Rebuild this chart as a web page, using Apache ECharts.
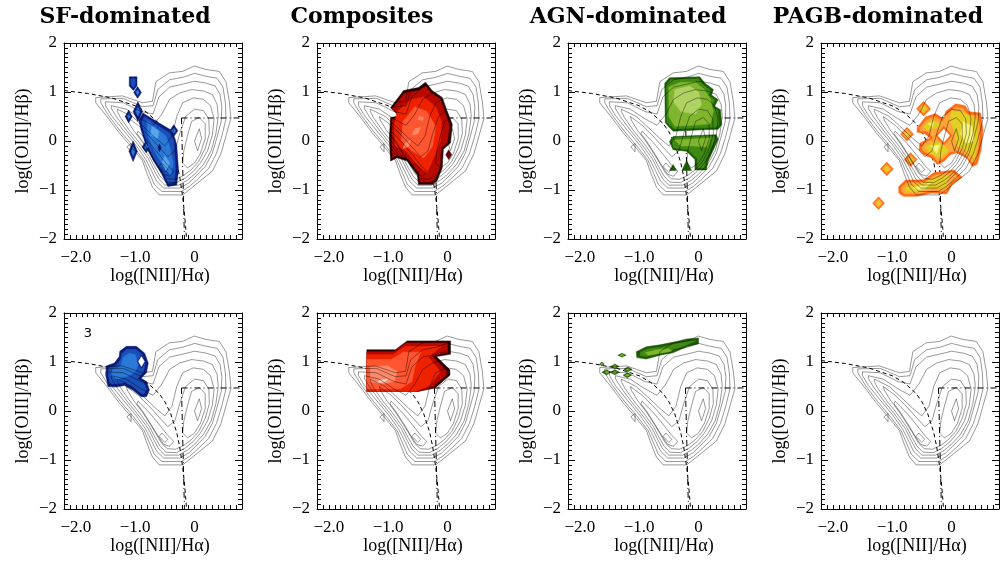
<!DOCTYPE html>
<html>
<head>
<meta charset="utf-8">
<script src="https://cdn.jsdelivr.net/npm/echarts@6/dist/echarts.min.js"></script>
<style>
	html, body { margin: 0; padding: 0; background: #fff; }
	#main { width: 1000px; height: 565px; }
</style>
</head>
<body>
<div id="main"></div>
<script>
	// 标题与刻度
	var panelTitles = ['SF-dominated', 'Composites', 'AGN-dominated', 'PAGB-dominated'];
	var xTickLabels = [-2, -1, 0];
	var yTickLabels = [-2, -1, 0, 1, 2];

	// 分界线 (Kauffmann 曲线 + 点划线)
	var kauffmannLine = [[-2.2, 1.03], [-1.8, 0.97], [-1.4, 0.88], [-1.0, 0.72], [-0.8, 0.58], [-0.6, 0.36],
		[-0.5, 0.19], [-0.4, -0.06], [-0.3, -0.44], [-0.25, -0.73], [-0.2, -1.14], [-0.17, -1.47], [-0.15, -1.75], [-0.135, -2.0]];
	var dashDotH = [[-0.22, 0.47], [0.8, 0.47]];
	var dashDotV = [[-0.22, 0.47], [-0.17, -2.0]];

	// 灰色等值线 (全样本)
	var bgContours = [
		[[-1.665, 0.886], [-1.215, 0.92], [-0.878, 0.78], [-0.709, 0.81], [-0.652, 1.21], [-0.427, 1.39], [-0.202, 1.42], [-0.005, 1.53], [0.192, 1.46], [0.417, 1.42], [0.529, 1.21], [0.586, 0.81], [0.614, 0.46], [0.529, 0.10], [0.445, -0.26], [0.304, -0.61], [0.079, -0.83], [-0.062, -0.97], [-0.202, -1.10], [-0.596, -1.10], [-0.709, -0.94], [-0.793, -0.69], [-0.878, -0.40], [-1.046, -0.15], [-1.271, 0.17], [-1.497, 0.53], [-1.665, 0.78]],
		[[-1.58, 0.86], [-1.2, 0.87], [-0.88, 0.70], [-0.70, 0.72], [-0.62, 1.05], [-0.42, 1.25], [-0.2, 1.3], [0.0, 1.38], [0.2, 1.32], [0.38, 1.28], [0.48, 1.1], [0.52, 0.78], [0.53, 0.45], [0.46, 0.10], [0.37, -0.25], [0.24, -0.56], [0.05, -0.78], [-0.08, -0.92], [-0.22, -1.03], [-0.55, -1.03], [-0.68, -0.88], [-0.76, -0.65], [-0.85, -0.40], [-1.02, -0.13], [-1.25, 0.2], [-1.45, 0.52], [-1.58, 0.78]],
		[[-1.5, 0.8], [-1.2, 0.78], [-0.9, 0.6], [-0.7, 0.55], [-0.6, 0.9], [-0.42, 1.1], [-0.2, 1.16], [0.0, 1.22], [0.2, 1.18], [0.35, 1.12], [0.43, 0.95], [0.46, 0.7], [0.45, 0.4], [0.38, 0.08], [0.3, -0.25], [0.18, -0.52], [0.02, -0.72], [-0.1, -0.86], [-0.25, -0.96], [-0.52, -0.96], [-0.64, -0.82], [-0.72, -0.62], [-0.82, -0.38], [-0.98, -0.1], [-1.2, 0.22], [-1.4, 0.52], [-1.5, 0.72]],
		[[-1.4, 0.72], [-1.15, 0.65], [-0.9, 0.45], [-0.7, 0.32], [-0.55, 0.55], [-0.42, 0.85], [-0.25, 0.98], [-0.05, 1.05], [0.15, 1.02], [0.3, 0.95], [0.38, 0.75], [0.4, 0.5], [0.36, 0.15], [0.28, -0.2], [0.15, -0.48], [0.0, -0.68], [-0.12, -0.8], [-0.27, -0.9], [-0.5, -0.9], [-0.6, -0.78], [-0.68, -0.6], [-0.78, -0.36], [-0.95, -0.08], [-1.15, 0.22], [-1.32, 0.5], [-1.4, 0.66]],
		[[-1.3, 0.65], [-1.05, 0.5], [-0.85, 0.28], [-0.65, 0.05], [-0.5, -0.1], [-0.38, 0.1], [-0.3, 0.5], [-0.2, 0.78], [-0.02, 0.88], [0.15, 0.85], [0.27, 0.72], [0.33, 0.45], [0.3, 0.12], [0.22, -0.2], [0.1, -0.45], [-0.02, -0.62], [-0.15, -0.75], [-0.3, -0.85], [-0.48, -0.84], [-0.58, -0.72], [-0.66, -0.55], [-0.76, -0.32], [-0.92, -0.05], [-1.1, 0.22], [-1.25, 0.48], [-1.3, 0.6]],
		[[-1.15, 0.5], [-0.95, 0.32], [-0.75, 0.08], [-0.58, -0.15], [-0.45, -0.32], [-0.33, -0.2], [-0.25, 0.15], [-0.15, 0.5], [0.0, 0.65], [0.15, 0.62], [0.24, 0.45], [0.25, 0.15], [0.18, -0.15], [0.07, -0.42], [-0.05, -0.58], [-0.18, -0.7], [-0.32, -0.78], [-0.46, -0.77], [-0.56, -0.65], [-0.64, -0.48], [-0.74, -0.28], [-0.88, -0.02], [-1.03, 0.22], [-1.13, 0.42]],
		[[-0.95, 0.2], [-0.75, -0.05], [-0.58, -0.3], [-0.45, -0.5], [-0.35, -0.62], [-0.42, -0.72], [-0.52, -0.68], [-0.62, -0.5], [-0.72, -0.3], [-0.85, -0.05], [-0.97, 0.15]],
		[[-0.12, 0.1], [-0.05, 0.4], [0.08, 0.48], [0.18, 0.35], [0.18, 0.05], [0.1, -0.25], [0.0, -0.45], [-0.12, -0.55], [-0.2, -0.45], [-0.18, -0.2]],
		[[-0.55, -0.45], [-0.45, -0.58], [-0.5, -0.64], [-0.6, -0.52]],
		[[0.0, 0.0], [0.08, 0.25], [0.12, 0.05], [0.05, -0.2]],
		[[-1.14, -0.12], [-1.07, -0.05], [-1.07, -0.22]]
	];

	// SF 主导 (上)
	var sfTopOuter = [
		[[-0.87, 0.57], [-0.59, 0.36], [-0.39, 0.22], [-0.33, 0.05], [-0.30, -0.08], [-0.27, -0.59], [-0.30, -0.90], [-0.45, -0.93], [-0.56, -0.66], [-0.70, -0.39], [-0.81, -0.12], [-0.90, 0.22], [-0.94, 0.43]],
		[[-1.1, 1.31], [-0.97, 1.31], [-0.97, 1.12], [-1.03, 1.03], [-1.1, 1.12]]
	];
	var sfTopMid = [
		[[-0.84, 0.50], [-0.60, 0.30], [-0.42, 0.17], [-0.35, 0.0], [-0.32, -0.55], [-0.34, -0.84], [-0.44, -0.86], [-0.54, -0.62], [-0.68, -0.36], [-0.78, -0.10], [-0.86, 0.20], [-0.89, 0.40]],
		[[-1.07, 1.27], [-1.0, 1.27], [-1.0, 1.14], [-1.03, 1.09], [-1.07, 1.14]]
	];
	var sfTopLight = [
		[[-0.80, 0.42], [-0.62, 0.24], [-0.48, 0.10], [-0.42, -0.10], [-0.36, -0.45], [-0.40, -0.70], [-0.50, -0.55], [-0.62, -0.32], [-0.74, -0.05], [-0.80, 0.20]]
	];
	var sfTopCore = [
		[[-0.72, 0.30], [-0.6, 0.2], [-0.62, 0.05], [-0.74, 0.12]],
		[[-0.5, -0.3], [-0.42, -0.45], [-0.48, -0.6], [-0.55, -0.45]]
	];
	var sfTopDiamonds = [[-0.96, 0.99, 0.065, 0.12], [-0.955, 0.6, 0.08, 0.2], [-1.11, 0.5, 0.06, 0.13],
		[-1.035, -0.21, 0.07, 0.21], [-0.35, 0.21, 0.07, 0.12], [-0.815, -0.12, 0.07, 0.12]];
	var sfTopDark = [[-0.59, -0.14, 0.03, 0.08]];

	// SF 主导 (下)
	var sfBotOuter = [
		[[-1.26, 1.22], [-1.15, 1.32], [-0.98, 1.32], [-0.84, 1.18], [-0.78, 0.98], [-0.81, 0.78], [-0.90, 0.67], [-0.81, 0.60], [-0.76, 0.43], [-0.81, 0.29], [-0.90, 0.29], [-1.04, 0.43], [-1.18, 0.52], [-1.32, 0.49], [-1.46, 0.50], [-1.49, 0.71], [-1.49, 0.92], [-1.35, 0.98], [-1.27, 1.11]]
	];
	var sfBotMid = [
		[[-1.23, 1.17], [-1.14, 1.26], [-0.99, 1.26], [-0.88, 1.15], [-0.83, 0.97], [-0.86, 0.80], [-0.96, 0.66], [-0.86, 0.58], [-0.81, 0.44], [-0.85, 0.35], [-0.90, 0.35], [-1.03, 0.48], [-1.17, 0.58], [-1.32, 0.55], [-1.43, 0.56], [-1.45, 0.72], [-1.45, 0.88], [-1.32, 0.93], [-1.24, 1.06]]
	];
	var sfBotLight = [
		[[-1.2, 1.1], [-1.1, 1.18], [-1.0, 1.15], [-0.95, 0.95], [-1.0, 0.8], [-1.1, 0.72], [-1.3, 0.65], [-1.4, 0.72], [-1.38, 0.85], [-1.25, 0.9]]
	];
	var sfBotHole = [[-0.895, 1.01, 0.05, 0.1]];

	// 复合型 (上)
	var compTopOuter = [
		[[-0.96, 0.68], [-0.74, 1.03], [-0.49, 1.09], [-0.37, 1.20], [-0.26, 1.03], [-0.09, 0.89], [-0.01, 0.62], [0.08, 0.34], [0.05, -0.04], [-0.07, -0.17], [-0.09, -0.55], [-0.18, -0.82], [-0.26, -0.89], [-0.49, -0.89], [-0.51, -0.69], [-0.68, -0.41], [-0.85, -0.34], [-0.96, -0.41], [-0.98, 0.07], [-0.96, 0.48], [-0.82, 0.51], [-0.91, 0.62]]
	];
	var compTopMid = [
		[[-0.93, 0.66], [-0.72, 0.98], [-0.48, 1.03], [-0.37, 1.12], [-0.28, 0.98], [-0.12, 0.85], [-0.05, 0.60], [0.03, 0.33], [0.0, -0.02], [-0.11, -0.15], [-0.13, -0.53], [-0.21, -0.78], [-0.27, -0.84], [-0.46, -0.84], [-0.48, -0.66], [-0.66, -0.36], [-0.85, -0.29], [-0.93, -0.34], [-0.94, 0.08], [-0.93, 0.44], [-0.78, 0.50], [-0.87, 0.60]]
	];
	var compTopLight = [
		[[-0.85, 0.6], [-0.6, 0.85], [-0.4, 0.9], [-0.2, 0.7], [-0.1, 0.4], [-0.12, 0.0], [-0.25, -0.4], [-0.35, -0.65], [-0.5, -0.5], [-0.7, -0.2], [-0.88, -0.1], [-0.9, 0.3]]
	];
	var compTopLighter = [
		[[-0.75, 0.4], [-0.55, 0.7], [-0.35, 0.6], [-0.2, 0.3], [-0.25, -0.1], [-0.4, -0.35], [-0.6, -0.2], [-0.78, 0.0]]
	];
	var compTopPale = [
		[[-0.48, 0.5], [-0.4, 0.48], [-0.42, 0.42], [-0.5, 0.44]],
		[[-0.55, 0.25], [-0.45, 0.28], [-0.5, 0.15], [-0.6, 0.12]],
		[[-0.72, -0.05], [-0.62, 0.02], [-0.66, -0.12], [-0.75, -0.15]]
	];
	var compTopDark = [[0.02, -0.28, 0.05, 0.1]];

	// 复合型 (下)
	var compBotOuter = [
		[[-1.36, 1.25], [-0.88, 1.25], [-0.68, 1.43], [0.05, 1.43], [0.05, 1.16], [-0.19, 1.11], [0.04, 0.84], [0.04, 0.73], [-0.21, 0.47], [-0.49, 0.40], [-1.36, 0.40]]
	];
	var compBotMid = [
		[[-1.36, 1.21], [-0.9, 1.21], [-0.7, 1.39], [0.0, 1.39], [0.0, 1.2], [-0.26, 1.12], [-0.02, 0.82], [-0.02, 0.74], [-0.24, 0.5], [-0.5, 0.40], [-1.36, 0.40]]
	];
	var compBotLight = [
		[[-1.36, 1.15], [-0.92, 1.15], [-0.72, 1.32], [-0.1, 1.32], [-0.32, 1.1], [-0.12, 0.8], [-0.3, 0.52], [-0.55, 0.40], [-1.36, 0.40]]
	];
	var compBotLighter = [
		[[-1.36, 1.05], [-0.95, 1.05], [-0.75, 1.2], [-0.45, 1.2], [-0.55, 0.9], [-0.6, 0.6], [-0.8, 0.45], [-1.36, 0.45]]
	];
	var compBotPale = [
		[[-1.3, 0.9], [-1.0, 0.92], [-0.85, 0.8], [-0.9, 0.6], [-1.1, 0.55], [-1.3, 0.6]]
	];
	var compBotSpot = [
		[[-1.15, 0.62], [-1.0, 0.66], [-1.05, 0.6], [-1.18, 0.57]]
	];

	// AGN 主导 (上)
	var agnTopOuter = [
		[[-0.57, 1.18], [-0.49, 1.29], [0.02, 1.31], [0.11, 1.18], [0.25, 1.05], [0.22, 0.94], [0.33, 0.84], [0.27, 0.71], [0.37, 0.64], [0.39, 0.33], [0.33, 0.24], [0.08, 0.23], [-0.43, 0.20], [-0.56, 0.37]],
		[[-0.49, -0.01], [-0.43, 0.09], [0.30, 0.13], [0.33, 0.03], [0.25, -0.18], [0.16, -0.42], [0.13, -0.59], [-0.06, -0.59], [-0.06, -0.38], [-0.20, -0.21], [-0.43, -0.18]],
		[[-0.43, -0.48], [-0.37, -0.6], [-0.49, -0.6]],
		[[-0.2, -0.4], [-0.12, -0.6], [-0.28, -0.6]]
	];
	var agnTopMid = [
		[[-0.54, 1.15], [-0.47, 1.25], [0.0, 1.27], [0.08, 1.15], [0.2, 1.03], [0.17, 0.93], [0.28, 0.83], [0.22, 0.71], [0.32, 0.63], [0.34, 0.35], [0.3, 0.28], [0.06, 0.27], [-0.41, 0.25], [-0.53, 0.38]],
		[[-0.45, 0.0], [-0.41, 0.07], [0.26, 0.1], [0.28, 0.03], [0.2, -0.16], [0.12, -0.4], [0.1, -0.55], [-0.02, -0.55], [-0.02, -0.36], [-0.18, -0.18], [-0.42, -0.14]]
	];
	var agnTopLight = [
		[[-0.5, 1.1], [-0.3, 1.2], [-0.05, 1.2], [0.1, 1.05], [0.2, 0.85], [0.25, 0.6], [0.2, 0.35], [-0.1, 0.32], [-0.4, 0.3], [-0.5, 0.5]],
		[[-0.4, 0.02], [0.2, 0.06], [0.15, -0.12], [-0.1, -0.1], [-0.3, -0.1]]
	];
	var agnTopCore = [
		[[-0.4, 1.05], [-0.15, 1.12], [0.0, 1.0], [0.05, 0.75], [-0.05, 0.55], [-0.3, 0.6], [-0.42, 0.8]]
	];

	// AGN 主导 (下)
	var agnBotOuter = [
		[[-1.05, 1.21], [-0.88, 1.31], [-0.65, 1.35], [-0.37, 1.42], [-0.2, 1.47], [0.0, 1.49], [0.0, 1.37], [-0.2, 1.31], [-0.43, 1.19], [-0.65, 1.14], [-0.88, 1.06], [-1.04, 1.09]]
	];
	var agnBotMid = [
		[[-0.98, 1.2], [-0.85, 1.27], [-0.62, 1.3], [-0.38, 1.37], [-0.2, 1.42], [-0.05, 1.43], [-0.2, 1.35], [-0.42, 1.24], [-0.65, 1.18], [-0.88, 1.11], [-0.98, 1.13]]
	];
	var agnBotLight = [
		[[-0.9, 1.19], [-0.7, 1.25], [-0.5, 1.27], [-0.45, 1.22], [-0.65, 1.18], [-0.85, 1.14]]
	];
	var agnBotDiamonds = [[-1.29, 1.14, 0.07, 0.04], [-1.41, 0.91, 0.07, 0.05], [-1.19, 0.85, 0.07, 0.05],
		[-1.55, 0.79, 0.08, 0.05], [-1.41, 0.79, 0.08, 0.05], [-1.2, 0.73, 0.07, 0.05], [-1.63, 0.96, 0.04, 0.04]];

	// PAGB 主导 (上)
	var pagbTopOuter = [
		[[-0.58, 0.27], [-0.44, 0.49], [-0.27, 0.56], [-0.13, 0.45], [-0.10, 0.60], [0.07, 0.76], [0.23, 0.72], [0.29, 0.60], [0.49, 0.57], [0.53, 0.23], [0.50, -0.18], [0.43, -0.48], [0.35, -0.52], [0.26, -0.35], [0.09, -0.24], [-0.02, -0.28], [-0.13, -0.42], [-0.24, -0.48], [-0.33, -0.35], [-0.47, -0.28], [-0.55, -0.18], [-0.53, -0.04], [-0.36, 0.06], [-0.45, 0.15], [-0.58, 0.18]],
		[[-0.89, -0.93], [-0.78, -0.80], [-0.47, -0.79], [-0.30, -0.65], [0.04, -0.59], [0.18, -0.74], [0.01, -0.89], [-0.08, -1.08], [-0.33, -1.06], [-0.58, -1.13], [-0.81, -1.13], [-0.89, -1.06]]
	];
	var pagbTopMid = [
		[[-0.53, 0.27], [-0.42, 0.44], [-0.28, 0.5], [-0.16, 0.4], [-0.06, 0.56], [0.07, 0.7], [0.2, 0.67], [0.26, 0.54], [0.45, 0.52], [0.48, 0.22], [0.45, -0.16], [0.4, -0.42], [0.35, -0.45], [0.25, -0.3], [0.09, -0.19], [-0.03, -0.23], [-0.14, -0.36], [-0.24, -0.42], [-0.31, -0.3], [-0.45, -0.23], [-0.5, -0.16], [-0.48, -0.07], [-0.3, 0.06], [-0.42, 0.2], [-0.53, 0.21]],
		[[-0.84, -0.94], [-0.76, -0.85], [-0.46, -0.84], [-0.29, -0.7], [0.02, -0.64], [0.11, -0.74], [-0.02, -0.85], [-0.1, -1.03], [-0.33, -1.01], [-0.58, -1.08], [-0.8, -1.08], [-0.84, -1.03]]
	];
	var pagbTopInner = [
		[[-0.48, 0.3], [-0.35, 0.42], [-0.22, 0.38], [-0.2, 0.3], [-0.4, 0.22]],
		[[0.0, 0.6], [0.2, 0.58], [0.42, 0.45], [0.44, 0.0], [0.38, -0.35], [0.25, -0.2], [0.1, -0.1], [0.05, 0.2], [-0.02, 0.4]],
		[[-0.45, -0.12], [-0.3, -0.02], [-0.15, -0.05], [-0.05, -0.2], [-0.2, -0.35], [-0.35, -0.25]],
		[[-0.78, -0.95], [-0.5, -0.88], [-0.3, -0.76], [-0.05, -0.7], [-0.1, -0.95], [-0.35, -0.96], [-0.6, -1.03], [-0.76, -1.03]]
	];
	var pagbTopCore = [
		[[0.2, 0.4], [0.35, 0.3], [0.38, 0.0], [0.25, -0.05], [0.15, 0.15]],
		[[-0.35, -0.1], [-0.2, -0.08], [-0.25, -0.25]],
		[[-0.4, 0.35], [-0.3, 0.38], [-0.32, 0.3]],
		[[-0.65, -0.95], [-0.45, -0.9], [-0.35, -0.85], [-0.45, -0.97], [-0.6, -1.0]]
	];
	var pagbTopDiamonds = [[-0.47, 0.66, 0.12, 0.15], [-0.75, 0.14, 0.11, 0.14], [-0.69, -0.38, 0.11, 0.14],
		[-1.09, -0.57, 0.11, 0.14], [-1.23, -1.27, 0.1, 0.13]];
	var pagbTopHole = [[-0.13, 0.11, 0.14, 0.19]];

	var blues = ['#0c1c7a', '#1b4fb8', '#2a78d8', '#5aa4ec'];
	var reds = ['#2a0000', '#b80800', '#ee2200', '#ff5530', '#ff8a6a', '#ffd6c8'];
	var greens = ['#1c5a06', '#3f8a12', '#80b62e', '#b0d262'];
	var oranges = ['#ff6a12', '#ffa53a', '#e2cf22', '#f8f47c'];

	var colLeft = [64, 317, 568, 821];
	var rowTop = [43, 313];
	var boxW = 178, boxH = 196;

	function fmtX(v) {
		for (var i = 0; i < xTickLabels.length; i++) {
			var t = xTickLabels[i];
			if (Math.abs(v - t) < 1e-6) {
				return t === 0 ? '0' : '\u2212' + Math.abs(t).toFixed(1);
			}
		}
		return '';
	}

	function fmtY(v) {
		if (yTickLabels.indexOf(Math.round(v)) < 0) return '';
		return v < 0 ? '\u2212' + (-v) : String(v);
	}

	var grids = [], xAxes = [], yAxes = [], series = [];

	function polySeries(gi, polys, fill, z) {
		return {
			type: 'custom', xAxisIndex: gi * 2, yAxisIndex: gi * 2, z: z, silent: true,
			data: polys.map(function(p, i) { return [p[0][0], p[0][1], i]; }),
			renderItem: function(params, api) {
				var pts = polys[api.value(2)].map(function(pt) { return api.coord(pt); });
				return { type: 'polygon', shape: { points: pts }, style: { fill: fill, stroke: fill, lineWidth: 0.5 } };
			}
		};
	}

	function diamondSeries(gi, list, fill, shrink, z) {
		return {
			type: 'custom', xAxisIndex: gi * 2, yAxisIndex: gi * 2, z: z, silent: true,
			data: list,
			renderItem: function(params, api) {
				var x = api.value(0), y = api.value(1), hx = api.value(2) * shrink, hy = api.value(3) * shrink;
				var pts = [[x, y + hy], [x + hx, y], [x, y - hy], [x - hx, y]].map(function(pt) { return api.coord(pt); });
				return { type: 'polygon', shape: { points: pts }, style: { fill: fill, stroke: fill, lineWidth: 0.5 } };
			}
		};
	}

	function contourSeries(gi) {
		return {
			type: 'custom', xAxisIndex: gi * 2, yAxisIndex: gi * 2, z: 10, silent: true,
			data: bgContours.map(function(p, i) { return [p[0][0], p[0][1], i]; }),
			renderItem: function(params, api) {
				var pts = bgContours[api.value(2)].map(function(pt) { return api.coord(pt); });
				return { type: 'polygon', shape: { points: pts }, style: { fill: 'none', stroke: 'rgba(0,0,0,0.45)', lineWidth: 0.9 } };
			}
		};
	}

	function lineSeries(gi, pts, dash) {
		return {
			type: 'line', xAxisIndex: gi * 2, yAxisIndex: gi * 2, z: 1, silent: true,
			data: pts, symbol: 'none', animation: false,
			lineStyle: { color: '#000', width: 1, type: dash }
		};
	}

	for (var r = 0; r < 2; r++) {
		for (var c = 0; c < 4; c++) {
			var gi = r * 4 + c;
			grids.push({ left: colLeft[c], top: rowTop[r], width: boxW, height: boxH, containLabel: false, outerBoundsMode: 'none' });
			var line = { show: true, onZero: false, lineStyle: { color: '#000', width: 1 } };
			var tick = { show: true, inside: true, length: 4, lineStyle: { color: '#000', width: 1 } };
			xAxes.push({
				type: 'value', gridIndex: gi, position: 'bottom', min: -2.2, max: 0.8, interval: 0.1,
				axisLine: line, axisTick: tick, splitLine: { show: false },
				axisLabel: { formatter: fmtX, color: '#000', fontFamily: 'Liberation Serif', fontSize: 17, margin: 10, showMinLabel: true, showMaxLabel: true },
				name: 'log([NII]/H\u03b1)', nameLocation: 'middle', nameGap: 22,
				nameTextStyle: { color: '#000', fontFamily: 'Liberation Serif', fontSize: 18, padding: [0, 0, 0, 14] }
			});
			xAxes.push({
				type: 'value', gridIndex: gi, position: 'top', min: -2.2, max: 0.8, interval: 0.1,
				axisLine: line, axisTick: tick, splitLine: { show: false },
				axisLabel: { show: false }
			});
			var ytick = { show: true, inside: true, length: 7, lineStyle: { color: '#000', width: 1 } };
			var ymin = { show: true, splitNumber: 10, length: 4, lineStyle: { color: '#000', width: 1 } };
			yAxes.push({
				type: 'value', gridIndex: gi, position: 'left', min: -2, max: 2, interval: 1,
				axisLine: line, axisTick: ytick, minorTick: ymin,
				splitLine: { show: false },
				axisLabel: { formatter: fmtY, color: '#000', fontFamily: 'Liberation Serif', fontSize: 17, margin: 7 },
				name: 'log([OIII]/H\u03b2)', nameLocation: 'middle', nameGap: 32, nameRotate: 90,
				nameTextStyle: { color: '#000', fontFamily: 'Liberation Serif', fontSize: 18 }
			});
			yAxes.push({
				type: 'value', gridIndex: gi, position: 'right', min: -2, max: 2, interval: 1,
				axisLine: line, axisTick: ytick, minorTick: ymin,
				splitLine: { show: false }, axisLabel: { show: false }
			});
			series.push(lineSeries(gi, kauffmannLine, [4, 3]));
			series.push(lineSeries(gi, dashDotH, [6, 3, 1, 3]));
			series.push(lineSeries(gi, dashDotV, [6, 3, 1, 3]));
			series.push(contourSeries(gi));
		}
	}

	function addLevels(gi, levels, palette) {
		levels.forEach(function(polys, k) {
			series.push(polySeries(gi, polys, palette[k], 3 + k));
		});
	}

	// SF 上
	addLevels(0, [sfTopOuter, sfTopMid, sfTopLight, sfTopCore], blues);
	series.push(diamondSeries(0, sfTopDiamonds, blues[0], 1, 3));
	series.push(diamondSeries(0, sfTopDiamonds, blues[2], 0.45, 4));
	series.push(diamondSeries(0, sfTopDark, blues[0], 1, 8));
	// SF 下
	addLevels(4, [sfBotOuter, sfBotMid, sfBotLight], blues);
	series.push(diamondSeries(4, sfBotHole, blues[0], 1.4, 7));
	series.push(diamondSeries(4, sfBotHole, '#ffffff', 1, 8));
	// 复合 上
	addLevels(1, [compTopOuter, compTopMid, compTopLight, compTopLighter, compTopPale], reds);
	series.push(diamondSeries(1, compTopDark, '#5a0000', 1, 8));
	// 复合 下
	addLevels(5, [compBotOuter, compBotMid, compBotLight, compBotLighter, compBotPale, compBotSpot], reds);
	// AGN 上
	addLevels(2, [agnTopOuter, agnTopMid, agnTopLight, agnTopCore], greens);
	// AGN 下
	addLevels(6, [agnBotOuter, agnBotMid, agnBotLight], greens);
	series.push(diamondSeries(6, agnBotDiamonds, greens[0], 1, 3));
	series.push(diamondSeries(6, agnBotDiamonds, greens[2], 0.5, 4));
	// PAGB 上
	addLevels(3, [pagbTopOuter, pagbTopMid, pagbTopInner, pagbTopCore], oranges);
	series.push(diamondSeries(3, pagbTopDiamonds, oranges[0], 1, 3));
	series.push(diamondSeries(3, pagbTopDiamonds, oranges[1], 0.7, 4));
	series.push(diamondSeries(3, pagbTopDiamonds, oranges[2], 0.4, 5));
	series.push(diamondSeries(3, pagbTopHole, oranges[0], 1, 8));
	series.push(diamondSeries(3, pagbTopHole, '#ffffff', 0.7, 9));

	var titleCenters = [125, 362, 628, 878];
	var graphics = panelTitles.map(function(t, i) {
		return {
			type: 'text', x: titleCenters[i], y: 17,
			style: { text: t, font: 'bold 22px "DejaVu Serif"', fill: '#000', textAlign: 'center', textVerticalAlign: 'middle', align: 'center', verticalAlign: 'middle' }
		};
	});
	graphics.push({
		type: 'text', x: 88, y: 334,
		style: { text: '3', font: '13px "DejaVu Sans"', fill: '#000', textAlign: 'center', textVerticalAlign: 'middle', align: 'center', verticalAlign: 'middle' }
	});

	var chart = echarts.init(document.getElementById('main'));
	chart.setOption({
		animation: false,
		backgroundColor: '#fff',
		grid: grids,
		xAxis: xAxes,
		yAxis: yAxes,
		series: series,
		graphic: graphics
	});
</script>
</body>
</html>
